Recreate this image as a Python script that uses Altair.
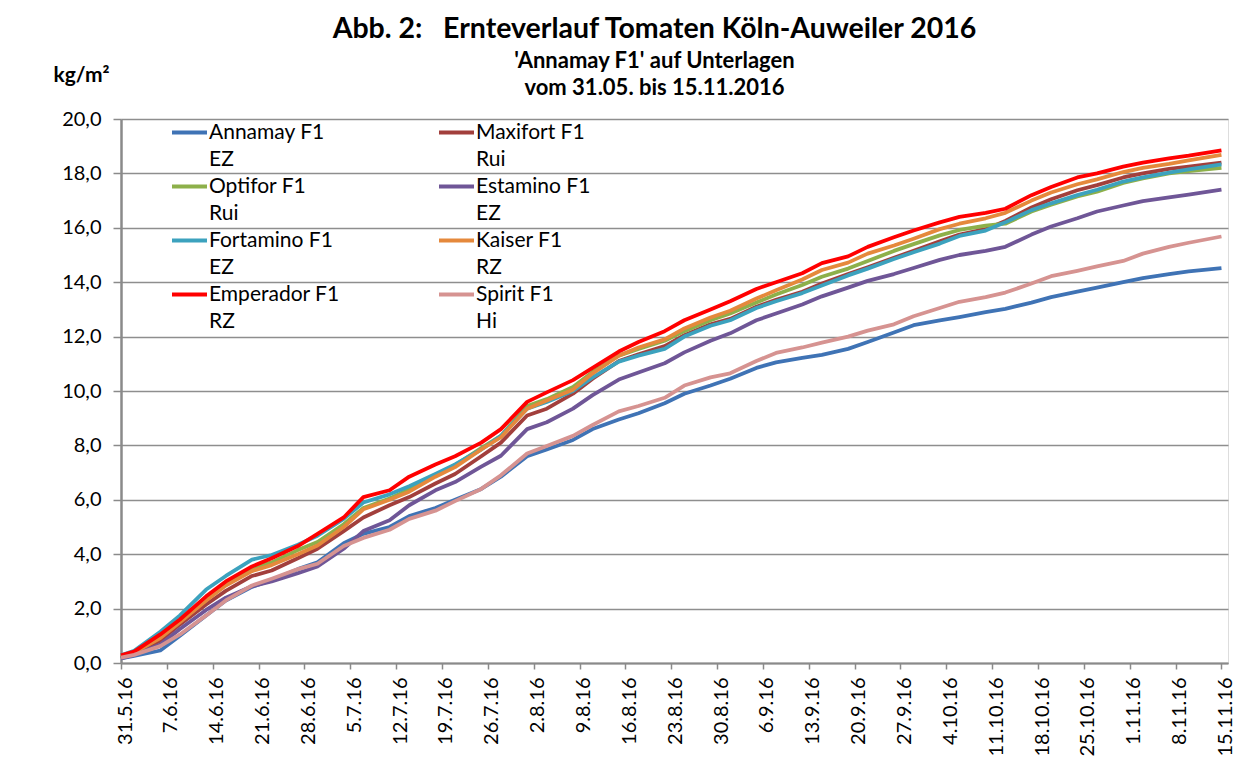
import altair as alt
import pandas as pd

# harvest dates (day.month.2016)
dates = ["2016-05-31", "2016-06-02", "2016-06-06", "2016-06-09", "2016-06-13", "2016-06-16",
         "2016-06-20", "2016-06-23", "2016-06-27", "2016-06-30", "2016-07-04", "2016-07-07",
         "2016-07-11", "2016-07-14", "2016-07-18", "2016-07-21", "2016-07-25", "2016-07-28",
         "2016-08-01", "2016-08-04", "2016-08-08", "2016-08-11", "2016-08-15", "2016-08-18",
         "2016-08-22", "2016-08-25", "2016-08-29", "2016-09-01", "2016-09-05", "2016-09-08",
         "2016-09-12", "2016-09-15", "2016-09-19", "2016-09-22", "2016-09-26", "2016-09-29",
         "2016-10-03", "2016-10-06", "2016-10-10", "2016-10-13", "2016-10-17", "2016-10-20",
         "2016-10-24", "2016-10-27", "2016-10-31", "2016-11-03", "2016-11-07", "2016-11-10",
         "2016-11-15"]

annamay = [0.17, 0.26, 0.46, 1.0, 1.75, 2.3, 2.8, 3.05, 3.45, 3.7, 4.4, 4.75, 5.0, 5.4, 5.7, 6.0,
           6.4, 6.85, 7.6, 7.85, 8.2, 8.6, 8.95, 9.18, 9.55, 9.9, 10.2, 10.45, 10.85, 11.05, 11.22,
           11.33, 11.55, 11.8, 12.15, 12.42, 12.6, 12.72, 12.9, 13.02, 13.25, 13.45, 13.65, 13.8,
           14.0, 14.15, 14.3, 14.4, 14.52]
maxifort = [0.2, 0.35, 0.82, 1.42, 2.15, 2.65, 3.2, 3.4, 3.85, 4.2, 4.85, 5.35, 5.8, 6.1, 6.6, 6.95,
            7.6, 8.1, 9.1, 9.35, 9.9, 10.45, 11.1, 11.35, 11.65, 12.05, 12.45, 12.65, 13.1, 13.35,
            13.65, 13.95, 14.3, 14.55, 14.9, 15.15, 15.5, 15.75, 15.95, 16.25, 16.75, 17.05, 17.38,
            17.57, 17.85, 18.0, 18.17, 18.25, 18.4]
optifor = [0.22, 0.38, 0.95, 1.55, 2.4, 2.92, 3.5, 3.7, 4.15, 4.45, 5.1, 5.7, 6.05, 6.38, 6.9, 7.28,
           7.9, 8.35, 9.45, 9.7, 10.15, 10.7, 11.3, 11.55, 11.85, 12.2, 12.6, 12.85, 13.25, 13.55,
           13.9, 14.2, 14.5, 14.78, 15.15, 15.4, 15.72, 15.92, 16.08, 16.15, 16.6, 16.85, 17.15,
           17.33, 17.65, 17.82, 18.0, 18.08, 18.2]
estamino = [0.17, 0.3, 0.68, 1.25, 1.95, 2.4, 2.82, 3.0, 3.3, 3.55, 4.2, 4.85, 5.25, 5.8, 6.35, 6.65,
            7.22, 7.62, 8.6, 8.85, 9.35, 9.85, 10.42, 10.68, 11.02, 11.42, 11.85, 12.12, 12.6, 12.85,
            13.18, 13.48, 13.8, 14.05, 14.3, 14.52, 14.82, 15.0, 15.15, 15.3, 15.75, 16.05, 16.35,
            16.6, 16.82, 16.98, 17.12, 17.22, 17.4]
fortamino = [0.28, 0.45, 1.15, 1.75, 2.7, 3.2, 3.8, 3.97, 4.35, 4.68, 5.3, 5.9, 6.2, 6.5, 6.95, 7.3,
             7.85, 8.35, 9.35, 9.6, 10.0, 10.5, 11.08, 11.3, 11.55, 12.0, 12.4, 12.6, 13.05, 13.3,
             13.6, 13.88, 14.25, 14.5, 14.85, 15.1, 15.42, 15.7, 15.9, 16.2, 16.65, 16.9, 17.2, 17.4,
             17.7, 17.85, 18.03, 18.15, 18.33]
kaiser = [0.22, 0.38, 0.92, 1.5, 2.3, 2.85, 3.38, 3.6, 4.0, 4.32, 5.0, 5.65, 6.0, 6.3, 6.85, 7.2,
          7.85, 8.3, 9.35, 9.65, 10.05, 10.65, 11.3, 11.6, 11.9, 12.3, 12.7, 12.95, 13.4, 13.7, 14.1,
          14.45, 14.72, 15.05, 15.35, 15.6, 15.95, 16.15, 16.35, 16.55, 17.0, 17.3, 17.6, 17.78,
          18.05, 18.2, 18.35, 18.48, 18.68]
emperador = [0.28, 0.42, 1.05, 1.6, 2.45, 3.0, 3.55, 3.85, 4.3, 4.75, 5.35, 6.1, 6.35, 6.85, 7.3, 7.6,
             8.1, 8.6, 9.6, 9.95, 10.4, 10.85, 11.45, 11.8, 12.2, 12.6, 13.0, 13.3, 13.75, 14.0,
             14.33, 14.7, 14.95, 15.3, 15.65, 15.9, 16.2, 16.4, 16.55, 16.7, 17.2, 17.5, 17.85, 18.0,
             18.25, 18.4, 18.55, 18.65, 18.85]
spirit = [0.2, 0.3, 0.62, 1.05, 1.75, 2.3, 2.85, 3.1, 3.45, 3.65, 4.3, 4.6, 4.9, 5.3, 5.6, 5.95,
          6.4, 6.9, 7.7, 7.98, 8.35, 8.75, 9.25, 9.45, 9.75, 10.2, 10.5, 10.65, 11.1, 11.4, 11.6,
          11.78, 12.0, 12.22, 12.45, 12.75, 13.05, 13.28, 13.45, 13.62, 13.95, 14.22, 14.42, 14.58,
          14.78, 15.05, 15.3, 15.45, 15.68]

series_names = ["Annamay F1", "Maxifort F1", "Optifor F1", "Estamino F1",
                "Fortamino F1", "Kaiser F1", "Emperador F1", "Spirit F1"]
series_sub = ["EZ", "Rui", "Rui", "EZ", "EZ", "RZ", "RZ", "Hi"]
series_values = [annamay, maxifort, optifor, estamino, fortamino, kaiser, emperador, spirit]
series_colors = ["#3F73B5", "#A23F3C", "#8DB04A", "#6F5697", "#3CA2BE", "#E5893C", "#FF0000", "#D69391"]
series_widths = [3.8, 3.8, 3.8, 3.8, 3.8, 3.8, 4.8, 3.8]

x_tick_labels = ["31.5.16", "7.6.16", "14.6.16", "21.6.16", "28.6.16", "5.7.16", "12.7.16",
                 "19.7.16", "26.7.16", "2.8.16", "9.8.16", "16.8.16", "23.8.16", "30.8.16",
                 "6.9.16", "13.9.16", "20.9.16", "27.9.16", "4.10.16", "11.10.16", "18.10.16",
                 "25.10.16", "1.11.16", "8.11.16", "15.11.16"]
y_ticks = [0, 2, 4, 6, 8, 10, 12, 14, 16, 18, 20]

rows = []
for si, name in enumerate(series_names):
    for d, v in zip(dates, series_values[si]):
        rows.append({"Datum": pd.Timestamp(d), "Sorte": name, "Ertrag": v, "k": si})
df = pd.DataFrame(rows)


def to_dt(lbl):
    d, m, y = lbl.split(".")
    return alt.DateTime(year=2000 + int(y), month=int(m), date=int(d))


x_values = [to_dt(l) for l in x_tick_labels]

# legend: two text lines per entry, second line as an entry without symbol.
# Vega fills the legend grid column by column: first column = even series.
legend_domain = []
legend_range = []
for col in (0, 1):
    for i in range(col, 8, 2):
        legend_domain += [series_names[i], series_sub[i] + "|" + str(i)]
        legend_range += [series_colors[i], "transparent"]

FONT = "Lato"

chart = alt.Chart(df).mark_line(strokeJoin="round", clip=False).encode(
    x=alt.X("Datum:T",
            scale=alt.Scale(domain=[to_dt("31.5.16"), alt.DateTime(year=2016, month=11, date=16)],
                            nice=False),
            axis=alt.Axis(values=x_values, format="%-d.%-m.%y", labelAngle=270, title=None,
                          grid=False, labelFontSize=20, labelFont=FONT, labelColor="black",
                          tickSize=6, tickColor="#8A8A8A", tickWidth=1.5, domainColor="#8A8A8A",
                          domainWidth=2, labelPadding=8, labelOffset=4, labelOverlap=False)),
    y=alt.Y("Ertrag:Q",
            scale=alt.Scale(domain=[0, 20], nice=False),
            axis=alt.Axis(values=y_ticks, labelExpr="replace(format(datum.value, '.1f'), '.', ',')",
                          title="kg/m²", titleAngle=0, titleX=-68, titleY=-44, titleAlign="left",
                          titleBaseline="middle", titleFontSize=21, titleFont=FONT,
                          titleFontWeight="bold", titleColor="black",
                          labelFontSize=20, labelFont=FONT, labelColor="black", labelPadding=12,
                          tickSize=8, tickColor="#8A8A8A", tickWidth=1.5,
                          domainColor="#8A8A8A", domainWidth=2.5,
                          grid=True, gridColor="#8E8E8E", gridWidth=1.6)),
    color=alt.Color("Sorte:N",
                    scale=alt.Scale(domain=legend_domain, range=legend_range),
                    legend=alt.Legend(title=None, orient="none", legendX=49, legendY=0, columns=2,
                                      symbolType="stroke", symbolSize=1225, symbolStrokeWidth=3.8,
                                      clipHeight=27, rowPadding=0, columnPadding=97,
                                      labelOffset=0, labelFontSize=21, labelFont=FONT,
                                      labelColor="black", padding=0, labelLimit=300,
                                      labelExpr="split(datum.label, '|')[0]")),
    strokeWidth=alt.StrokeWidth("Sorte:N",
                                scale=alt.Scale(domain=series_names, range=series_widths),
                                legend=None),
    order=alt.Order("Datum:T"),
    detail="k:O",
).properties(
    width=1107,
    height=544,
    title=alt.TitleParams(
        text="Abb. 2:\u00a0\u00a0 Ernteverlauf Tomaten Köln-Auweiler 2016",
        subtitle=["'Annamay F1' auf Unterlagen", "vom 31.05. bis 15.11.2016"],
        font=FONT, fontSize=28.5, fontWeight="bold", color="black",
        subtitleFont=FONT, subtitleFontSize=22, subtitleFontWeight="bold", subtitleColor="black",
        subtitleLineHeight=27, subtitlePadding=8,
        anchor="middle", frame="group", dx=-20, offset=-35),
    autosize=alt.AutoSizeParams(type="none"),
    padding={"left": 113, "top": 111, "right": 12, "bottom": 110},
).configure_view(
    fill="#FFFFCC", stroke=None
).configure(background="white")

chart.save("out.html", embed_options={"renderer": "svg", "actions": False})
